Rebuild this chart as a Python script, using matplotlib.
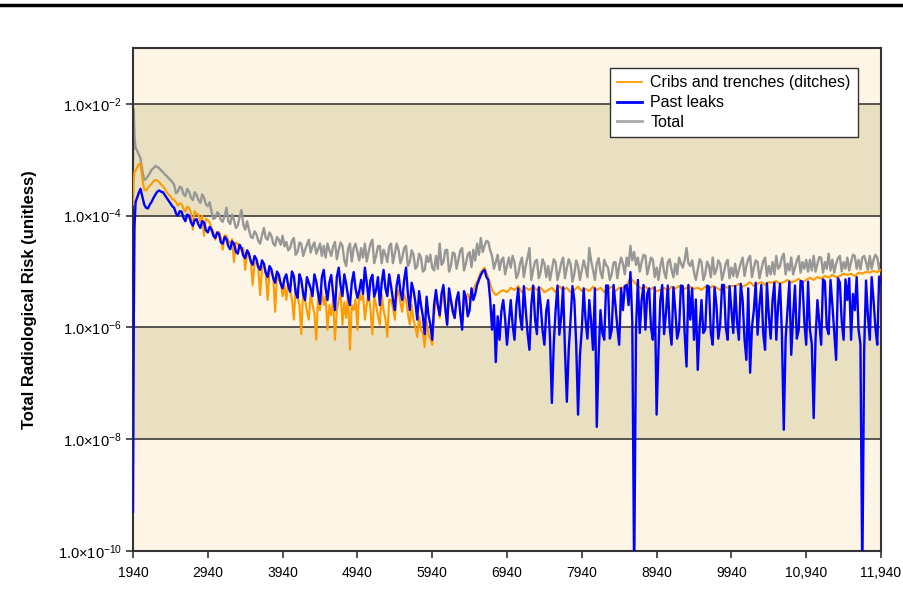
import numpy as np
import matplotlib
matplotlib.use("Agg")
import matplotlib.pyplot as plt
from matplotlib.lines import Line2D

plt.rcParams["font.family"] = ["Liberation Sans", "DejaVu Sans"]
plt.rcParams["mathtext.fontset"] = "custom"
plt.rcParams["mathtext.rm"] = "Liberation Sans"
plt.rcParams["mathtext.it"] = "Liberation Sans"

# ---------------- data (log10 of risk) ----------------
early_years = [1940, 1950, 1960, 1975]
years = early_years + list(range(1990, 11941, 50))
mid_years = list(range(2015, 11916, 50))

cribs_log = [
    -3.80, -3.40, -3.20, -3.20,
    -3.15, -3.06, -3.54, -3.50, -3.43, -3.36, -3.40, -3.47, -3.58, -3.65,
    -3.72, -3.82, -3.79, -3.93, -3.86, -4.25, -3.97, -4.11, -4.36, -4.08,
    -4.22, -4.43, -4.29, -4.61, -4.36, -4.50, -4.83, -4.50, -4.61, -4.97,
    -4.72, -5.24, -4.83, -5.42, -4.90, -5.51, -5.00, -5.72, -5.15, -5.44,
    -5.51, -5.33, -5.86, -5.44, -6.12, -5.51, -5.86, -5.60, -6.22, -5.69,
    -5.60, -6.04, -5.78, -6.22, -5.51, -5.95, -5.83, -6.40, -5.69, -6.04,
    -5.51, -5.86, -5.33, -6.12, -5.60, -5.95, -5.69, -6.17, -5.51, -5.86,
    -5.33, -5.72, -5.51, -5.95, -5.86, -6.17, -6.04, -6.35, -6.12, -6.31,
    -5.47, -5.83, -5.37, -5.95, -5.55, -5.83, -5.44, -5.90, -5.47, -5.51,
    -5.33, -5.18, -5.01, -4.93, -5.11, -5.33, -5.42, -5.37, -5.33, -5.37,
    -5.29, -5.33, -5.26, -5.37, -5.29, -5.33, -5.26, -5.33, -5.29, -5.37,
    -5.33, -5.29, -5.37, -5.26, -5.33, -5.29, -5.37, -5.33, -5.27, -5.35,
    -5.31, -5.35, -5.27, -5.33, -5.29, -5.37, -5.31, -5.27, -5.35, -5.29,
    -5.29, -5.26, -5.11, -5.19, -5.26, -5.31, -5.27, -5.33, -5.29, -5.35,
    -5.33, -5.29, -5.35, -5.27, -5.31, -5.26, -5.33, -5.29, -5.27, -5.31,
    -5.29, -5.33, -5.27, -5.31, -5.26, -5.29, -5.33, -5.27, -5.29, -5.26,
    -5.26, -5.22, -5.27, -5.24, -5.19, -5.26, -5.22, -5.19, -5.24, -5.19,
    -5.20, -5.17, -5.22, -5.19, -5.15, -5.20, -5.17, -5.13, -5.19, -5.15,
    -5.11, -5.15, -5.10, -5.13, -5.08, -5.11, -5.06, -5.10, -5.08, -5.04,
    -5.06, -5.04, -5.08, -5.02, -5.04, -5.01, -5.02, -4.99, -5.01, -4.97,
]
cribs_log_mid = [
    -3.08, -3.35, -3.55, -3.46, -3.38, -3.37, -3.44, -3.52, -3.62, -3.70,
    -3.76, -3.78, -3.88, -3.84, -3.95, -3.92, -3.98, -4.00, -4.05, -4.12,
    -4.28, -4.30, -4.40, -4.35, -4.45, -4.42, -4.48, -4.55, -4.58, -4.68,
    -4.80, -4.85, -4.95, -4.92, -5.05, -5.00, -5.10, -5.05, -5.20, -5.25,
    -5.20, -5.50, -5.30, -5.60, -5.35, -5.70, -5.40, -5.75, -5.45, -5.35,
    -5.45, -5.60, -5.50, -5.70, -5.35, -5.55, -5.40, -5.60, -5.50, -5.35,
    -5.40, -5.60, -5.70, -5.45, -5.80, -5.40, -5.85, -5.50, -5.65, -5.45,
    -5.55, -5.40, -5.75, -5.60, -6.00, -5.80, -6.10, -5.90, -6.20, -5.80,
    -5.60, -5.55, -5.70, -5.50, -5.75, -5.55, -5.70, -5.60, -5.40, -5.40,
    -5.25, -5.10, -4.97, -5.02, -5.22, -5.38, -5.40, -5.35, -5.35, -5.33,
    -5.31, -5.30, -5.32, -5.33, -5.31, -5.30, -5.30, -5.31, -5.33, -5.35,
    -5.31, -5.33, -5.31, -5.30, -5.31, -5.33, -5.35, -5.30, -5.31, -5.33,
    -5.33, -5.31, -5.30, -5.31, -5.33, -5.34, -5.29, -5.31, -5.32, -5.29,
    -5.27, -5.18, -5.15, -5.22, -5.28, -5.29, -5.30, -5.31, -5.32, -5.34,
    -5.31, -5.32, -5.31, -5.29, -5.28, -5.29, -5.31, -5.28, -5.29, -5.30,
    -5.31, -5.30, -5.29, -5.28, -5.27, -5.31, -5.30, -5.28, -5.27, -5.26,
    -5.24, -5.25, -5.25, -5.21, -5.22, -5.24, -5.20, -5.21, -5.21, -5.20,
    -5.18, -5.20, -5.20, -5.17, -5.17, -5.18, -5.15, -5.16, -5.17, -5.13,
    -5.13, -5.12, -5.11, -5.10, -5.09, -5.08, -5.08, -5.09, -5.06, -5.05,
    -5.05, -5.06, -5.05, -5.03, -5.02, -5.01, -5.00, -5.00, -4.99,
]

leaks_log = [
    -9.30, -6.00, -4.20, -3.75,
    -3.70, -3.52, -3.80, -3.87, -3.75, -3.62, -3.55, -3.58, -3.68, -3.78,
    -3.86, -4.00, -3.93, -4.10, -4.00, -4.18, -4.06, -4.22, -4.12, -4.30,
    -4.25, -4.40, -4.33, -4.50, -4.42, -4.60, -4.50, -4.68, -4.58, -4.76,
    -4.68, -4.88, -4.78, -4.97, -4.86, -5.10, -4.96, -5.20, -5.06, -5.30,
    -5.05, -5.36, -5.08, -5.47, -5.15, -5.51, -5.20, -5.44, -5.18, -5.58,
    -4.97, -5.51, -5.06, -5.69, -4.93, -5.44, -5.22, -5.60, -5.01, -5.47,
    -5.15, -4.93, -5.51, -5.06, -5.33, -5.60, -4.97, -5.44, -5.26, -5.69,
    -5.06, -5.51, -4.93, -5.69, -5.33, -5.86, -5.60, -6.12, -5.78, -6.22,
    -5.33, -5.78, -5.24, -5.95, -5.51, -5.83, -5.37, -6.04, -5.47, -5.69,
    -5.51, -5.24, -5.06, -4.97, -5.15, -6.04, -6.62, -6.22, -5.51, -6.31,
    -5.51, -6.22, -5.30, -6.04, -5.69, -6.40, -5.25, -6.12, -5.60, -6.31,
    -5.51, -7.35, -5.69, -6.13, -5.28, -7.33, -5.86, -5.51, -7.56, -6.04,
    -5.86, -5.51, -6.40, -7.78, -5.69, -6.22, -5.25, -6.04, -5.60, -6.31,
    -5.69, -5.24, -5.01, -10.5, -5.15, -5.51, -6.04, -5.30, -6.22, -7.56,
    -5.51, -6.12, -5.25, -6.31, -5.69, -6.04, -5.26, -6.70, -5.86, -6.22,
    -6.76, -5.51, -6.04, -5.27, -6.31, -5.60, -5.95, -5.24, -6.22, -5.69,
    -5.26, -6.22, -5.51, -6.58, -6.81, -5.69, -6.13, -5.24, -6.40, -5.78,
    -5.51, -6.22, -5.22, -7.83, -5.69, -6.49, -5.25, -6.04, -5.18, -6.31,
    -6.04, -7.62, -5.51, -6.31, -5.18, -6.12, -5.60, -6.58, -5.20, -6.22,
    -5.51, -6.22, -5.69, -6.04, -10.5, -5.16, -6.22, -5.51, -6.31, -5.22,
]
leaks_log_mid = [
    -3.60, -3.66, -3.86, -3.80, -3.68, -3.57, -3.57, -3.63, -3.73, -3.83,
    -3.96, -3.92, -4.04, -3.98, -4.12, -4.08, -4.16, -4.10, -4.26, -4.20,
    -4.36, -4.30, -4.48, -4.38, -4.55, -4.46, -4.64, -4.52, -4.72, -4.62,
    -4.82, -4.72, -4.92, -4.80, -5.02, -4.90, -5.12, -5.00, -5.22, -5.12,
    -5.25, -5.00, -5.38, -5.05, -5.40, -5.10, -5.30, -5.05, -5.40, -5.10,
    -5.30, -5.20, -5.40, -5.10, -5.25, -5.05, -5.45, -5.20, -5.30, -5.35,
    -5.40, -5.20, -5.15, -5.45, -5.10, -5.20, -5.30, -5.05, -5.50, -5.25,
    -5.35, -5.15, -5.40, -5.20, -5.55, -5.35, -5.80, -5.45, -5.95, -5.60,
    -5.60, -5.40, -5.65, -5.30, -5.70, -5.50, -5.75, -5.35, -5.80, -5.30,
    -5.40, -5.15, -5.00, -5.10, -5.50, -5.60, -5.80, -5.70, -5.85, -5.90,
    -5.95, -5.60, -5.80, -5.26, -6.10, -5.60, -5.85, -5.28, -6.05, -5.70,
    -6.20, -6.30, -5.25, -5.80, -6.40, -6.40, -5.26, -6.30, -6.50, -5.30,
    -6.20, -5.90, -5.30, -6.50, -6.10, -5.25, -6.20, -5.24, -6.00, -5.30,
    -5.26, -5.60, -5.90, -6.00, -6.10, -5.24, -5.40, -6.00, -5.28, -6.40,
    -5.24, -5.75, -6.00, -5.28, -6.20, -5.25, -6.10, -5.24, -5.30, -5.50,
    -6.00, -6.10, -5.25, -6.10, -5.28, -6.20, -5.24, -6.00, -5.26, -6.10,
    -5.90, -5.22, -6.20, -5.30, -6.00, -5.20, -5.60, -6.10, -5.21, -6.20,
    -5.20, -5.60, -6.10, -6.20, -5.18, -5.80, -6.20, -5.17, -5.90, -5.18,
    -6.30, -6.20, -5.90, -5.14, -6.00, -5.15, -6.10, -5.12, -5.90, -5.14,
    -5.12, -5.40, -5.10, -6.30, -6.40, -5.80, -5.10, -6.00, -5.09,
]

total_log = [
    -3.00, -2.10, -2.60, -2.80,
    -2.82, -2.97, -3.36, -3.29, -3.18, -3.11, -3.15, -3.22, -3.29, -3.36,
    -3.45, -3.57, -3.50, -3.65, -3.57, -3.72, -3.63, -3.77, -3.68, -3.83,
    -3.93, -4.04, -3.97, -4.11, -3.86, -4.15, -4.08, -4.18, -3.90, -4.25,
    -4.25, -4.40, -4.33, -4.50, -4.22, -4.43, -4.36, -4.54, -4.43, -4.36,
    -4.47, -4.58, -4.40, -4.65, -4.50, -4.61, -4.43, -4.54, -4.68, -4.50,
    -4.54, -4.50, -4.72, -4.47, -4.61, -4.54, -4.90, -4.50, -4.58, -4.65,
    -4.58, -4.50, -4.65, -4.43, -4.72, -4.54, -4.61, -4.83, -4.50, -4.68,
    -4.61, -4.75, -4.54, -4.83, -4.70, -4.90, -4.75, -4.97, -4.83, -4.93,
    -4.72, -4.50, -4.83, -4.61, -4.90, -4.68, -4.79, -4.58, -4.86, -4.65,
    -4.61, -4.50, -4.40, -4.54, -4.47, -4.72, -4.83, -4.97, -4.75, -4.90,
    -4.93, -4.83, -5.04, -4.75, -4.90, -4.58, -4.97, -4.79, -5.01, -4.86,
    -4.90, -4.97, -4.83, -5.01, -4.75, -4.93, -4.86, -5.04, -4.90, -4.97,
    -4.93, -4.58, -4.97, -4.86, -5.01, -4.79, -4.93, -5.04, -4.83, -4.90,
    -4.86, -4.75, -4.54, -4.65, -4.75, -4.83, -4.72, -4.90, -4.79, -4.93,
    -4.90, -5.01, -4.83, -4.97, -4.86, -4.75, -4.93, -4.58, -4.90, -5.01,
    -4.97, -4.83, -5.04, -4.90, -4.75, -4.97, -4.86, -5.01, -4.79, -4.93,
    -4.86, -4.97, -4.75, -4.90, -4.72, -4.93, -4.83, -4.97, -4.75, -4.90,
    -4.83, -4.72, -4.90, -4.68, -4.86, -4.75, -4.93, -4.72, -4.83, -4.79,
    -4.79, -4.72, -4.86, -4.75, -4.83, -4.68, -4.79, -4.86, -4.72, -4.83,
    -4.75, -4.83, -4.72, -4.79, -4.75, -4.83, -4.72, -4.79, -4.75, -4.83,
]
total_log_mid = [
    -2.90, -3.20, -3.34, -3.24, -3.15, -3.13, -3.19, -3.26, -3.33, -3.40,
    -3.60, -3.48, -3.62, -3.52, -3.68, -3.58, -3.72, -3.62, -3.80, -3.76,
    -4.06, -3.94, -4.08, -4.00, -4.10, -3.98, -4.22, -4.02, -4.16, -4.10,
    -4.38, -4.28, -4.45, -4.35, -4.40, -4.30, -4.50, -4.38, -4.52, -4.55,
    -4.62, -4.45, -4.70, -4.48, -4.72, -4.52, -4.66, -4.48, -4.60, -4.72,
    -4.75, -4.62, -4.55, -4.78, -4.48, -4.80, -4.60, -4.82, -4.50, -4.80,
    -4.75, -4.82, -4.50, -4.85, -4.55, -4.85, -4.70, -4.55, -4.85, -4.50,
    -4.85, -4.58, -4.90, -4.62, -4.95, -4.68, -5.00, -4.72, -4.70, -4.98,
    -4.95, -4.88, -4.62, -5.00, -4.66, -4.95, -4.62, -4.98, -4.70, -4.92,
    -4.80, -4.70, -4.65, -4.45, -4.62, -4.95, -4.70, -4.80, -5.05, -4.75,
    -4.72, -5.12, -4.85, -5.10, -4.75, -5.15, -4.82, -5.12, -4.78, -5.10,
    -5.15, -4.78, -5.15, -4.85, -5.12, -4.78, -5.18, -4.80, -5.15, -4.80,
    -5.10, -4.82, -5.15, -4.76, -5.12, -4.88, -5.15, -4.84, -5.12, -4.75,
    -5.05, -4.90, -4.80, -4.88, -5.00, -4.70, -5.05, -4.75, -5.10, -5.15,
    -4.76, -5.12, -4.78, -5.10, -5.05, -4.85, -4.80, -4.85, -4.80, -5.15,
    -4.78, -5.15, -4.82, -5.10, -5.05, -4.80, -5.15, -4.85, -5.12, -5.08,
    -5.10, -4.85, -5.08, -4.78, -5.10, -4.80, -5.12, -4.82, -5.08, -5.05,
    -5.05, -4.95, -4.75, -5.05, -4.98, -5.05, -4.80, -5.02, -4.95, -5.00,
    -4.98, -5.00, -4.74, -5.02, -4.95, -4.98, -5.02, -4.76, -5.00, -4.95,
    -4.98, -4.70, -4.95, -4.96, -4.72, -4.97, -4.95, -4.70, -4.96,
]

series_labels = ["Cribs and trenches (ditches)", "Past leaks", "Total"]
x_ticks = [1940, 2940, 3940, 4940, 5940, 6940, 7940, 8940, 9940, 10940, 11940]
x_ticklabels = ["1940", "2940", "3940", "4940", "5940", "6940", "7940",
                "8940", "9940", "10,940", "11,940"]
y_exponents = [-2, -4, -6, -8, -10]
band_edges = [-1, -2, -4, -6, -8, -10]


def merged(main_vals, mid_vals):
    xs = np.array(years + mid_years, dtype=float)
    ys = np.array(main_vals + mid_vals, dtype=float)
    order = np.argsort(xs, kind="stable")
    return xs[order], 10.0 ** ys[order]


# ---------------- figure ----------------
fig = plt.figure(figsize=(9.04, 5.91), dpi=100)
ax = fig.add_axes([133 / 904, 1 - 551 / 591, 748 / 904, 503 / 591])

light = "#fdf6e6"
dark = "#e8e0c1"
for i in range(len(band_edges) - 1):
    ax.axhspan(10.0 ** band_edges[i + 1], 10.0 ** band_edges[i],
               color=(light if i % 2 == 0 else dark), lw=0, zorder=0)
for e in y_exponents[:-1]:
    ax.axhline(10.0 ** e, color="#3a3a3a", lw=1.2, zorder=1)

xt, yt = merged(total_log, total_log_mid)
xc, yc = merged(cribs_log, cribs_log_mid)
xl, yl = merged(leaks_log, leaks_log_mid)
ax.plot(xt, yt, color="#979797", lw=1.7, zorder=2)
ax.plot(xc, yc, color="#ff9a00", lw=1.5, zorder=3)
ax.plot(xl, yl, color="#0000ff", lw=1.7, zorder=4)

ax.set_yscale("log")
ax.set_xlim(1940, 11940)
ax.set_ylim(1e-10, 1e-1)

ax.set_xticks(x_ticks)
ax.set_xticklabels(x_ticklabels, fontsize=10)
ax.set_yticks([10.0 ** e for e in y_exponents])
ax.set_yticklabels([r"$\mathregular{1.0{\times}10^{%d}}$" % e for e in y_exponents],
                   fontsize=10.5)
ax.minorticks_off()
ax.tick_params(axis="both", direction="out", length=5, width=1.2,
               color="#333333", pad=3)
ax.tick_params(axis="x", pad=6)

for s in ax.spines.values():
    s.set_color("#333333")
    s.set_linewidth(1.5)

ax.set_ylabel("Total Radiological Risk (unitless)", fontsize=12,
              fontweight="bold")
ax.yaxis.set_label_coords(-0.128, 0.5)

handles = [Line2D([], [], color="#ff9a00", lw=1.3),
           Line2D([], [], color="#0000ff", lw=2.0),
           Line2D([], [], color="#a9a9a9", lw=2.0)]
leg = ax.legend(handles, series_labels, loc="upper right",
                bbox_to_anchor=(0.969, 0.960), borderaxespad=0,
                fontsize=11.5, frameon=True, fancybox=False,
                handlelength=1.6, handletextpad=0.5, labelspacing=0.3,
                borderpad=0.45)
leg.get_frame().set_edgecolor("#333333")
leg.get_frame().set_linewidth(1.0)
leg.get_frame().set_facecolor("white")
leg.get_frame().set_alpha(1)

fig.add_artist(Line2D([0, 1], [1 - 5 / 591, 1 - 5 / 591], color="black",
                      lw=2.5, transform=fig.transFigure))

fig.savefig("out.png", dpi=100)
